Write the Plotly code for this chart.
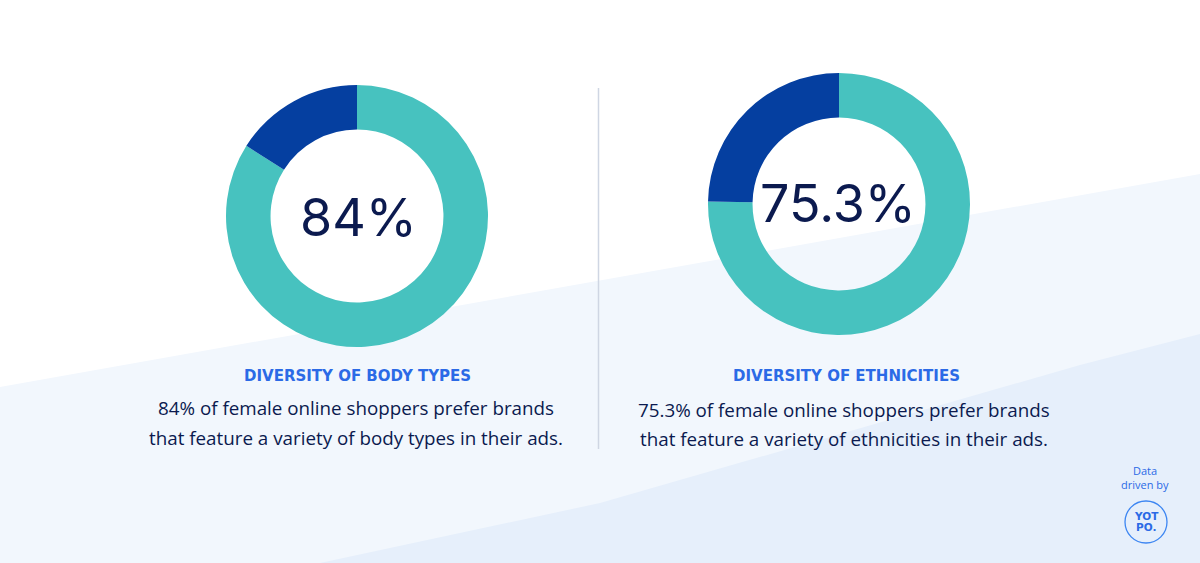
import plotly.graph_objects as go

W, H = 1200, 563

categories = ["Prefer variety", "Other"]
body_values = [84, 16]
eth_values = [75.3, 24.7]
big_labels = ["84%", "75.3%"]
headings = ["DIVERSITY OF BODY TYPES", "DIVERSITY OF ETHNICITIES"]
body_lines = [
    ["84% of female online shoppers prefer brands",
     "that feature a variety of body types in their ads."],
    ["75.3% of female online shoppers prefer brands",
     "that feature a variety of ethnicities in their ads."],
]

TEAL = "#47c2bf"
DARK = "#053fa0"
NAVY = "#0b1a4f"
BLUE = "#2b6ae6"


def px(x):
    return x / W


def py(y):
    return 1 - y / H


def domain(cx, cy, r):
    return dict(x=[px(cx - r), px(cx + r)], y=[py(cy + r), py(cy - r)])


fig = go.Figure()

centers = [(357, 216), (839, 204)]
for vals, (cx, cy) in zip([body_values, eth_values], centers):
    fig.add_trace(go.Pie(
        labels=categories, values=vals, hole=0.66, sort=False,
        direction="clockwise", rotation=0,
        marker=dict(colors=[TEAL, DARK], line=dict(width=0)),
        textinfo="none", showlegend=False,
        domain=domain(cx, cy, 131),
    ))

shapes = [
    dict(type="path", xref="paper", yref="paper", layer="below",
         path=f"M {px(0)} {py(387)} L {px(1200)} {py(174)} L {px(1200)} {py(563)} L {px(0)} {py(563)} Z",
         fillcolor="#f2f7fd", line=dict(width=0)),
    dict(type="path", xref="paper", yref="paper", layer="below",
         path=(f"M {px(320)} {py(563)} L {px(600)} {py(503)} L {px(1080)} {py(365)} "
               f"L {px(1200)} {py(334)} L {px(1200)} {py(563)} Z"),
         fillcolor="#e6effb", line=dict(width=0)),
    dict(type="line", xref="paper", yref="paper",
         x0=px(598.5), x1=px(598.5), y0=py(88), y1=py(449),
         line=dict(color="#cfd6e3", width=1.5)),
    dict(type="circle", xref="paper", yref="paper",
         x0=px(1146 - 21), x1=px(1146 + 21), y0=py(522 + 21), y1=py(522 - 21),
         line=dict(color="#3d86f2", width=1.3)),
]

annotations = []
big_pos = [(358, 217), (838, 203)]
for lab, (x, y) in zip(big_labels, big_pos):
    annotations.append(dict(text=lab, x=px(x), y=py(y), xref="paper", yref="paper",
                            showarrow=False, xanchor="center", yanchor="middle",
                            font=dict(family="Inter", size=52, color=NAVY)))

head_pos = [(357, 376), (846, 376)]
for txt, (x, y) in zip(headings, head_pos):
    annotations.append(dict(text=f"<b>{txt}</b>", x=px(x), y=py(y), xref="paper", yref="paper",
                            showarrow=False, xanchor="center", yanchor="middle",
                            font=dict(family="DejaVu Sans", size=15, color=BLUE)))

body_pos = [(356, [408, 438]), (844, [410, 439])]
for lines, (x, ys) in zip(body_lines, body_pos):
    for line, y in zip(lines, ys):
        annotations.append(dict(text=line, x=px(x), y=py(y), xref="paper", yref="paper",
                                showarrow=False, xanchor="center", yanchor="middle",
                                font=dict(family="Open Sans", size=18.8, color=NAVY)))

for txt, y in [("Data", 470), ("driven by", 484)]:
    annotations.append(dict(text=txt, x=px(1145), y=py(y), xref="paper", yref="paper",
                            showarrow=False, xanchor="center", yanchor="middle",
                            font=dict(family="Open Sans", size=11, color="#2b6ae6")))
for txt, y in [("YOT", 516), ("PO.", 527)]:
    annotations.append(dict(text=f"<b>{txt}</b>", x=px(1146), y=py(y), xref="paper", yref="paper",
                            showarrow=False, xanchor="center", yanchor="middle",
                            font=dict(family="DejaVu Sans", size=10.5, color="#2b6ae6")))

fig.update_layout(
    width=W, height=H, margin=dict(l=0, r=0, t=0, b=0),
    paper_bgcolor="white", plot_bgcolor="white",
    shapes=shapes, annotations=annotations,
)

fig.write_html("out.html", config={"displayModeBar": False},
               post_script="document.body.style.margin='0';document.body.style.overflow='hidden';")
